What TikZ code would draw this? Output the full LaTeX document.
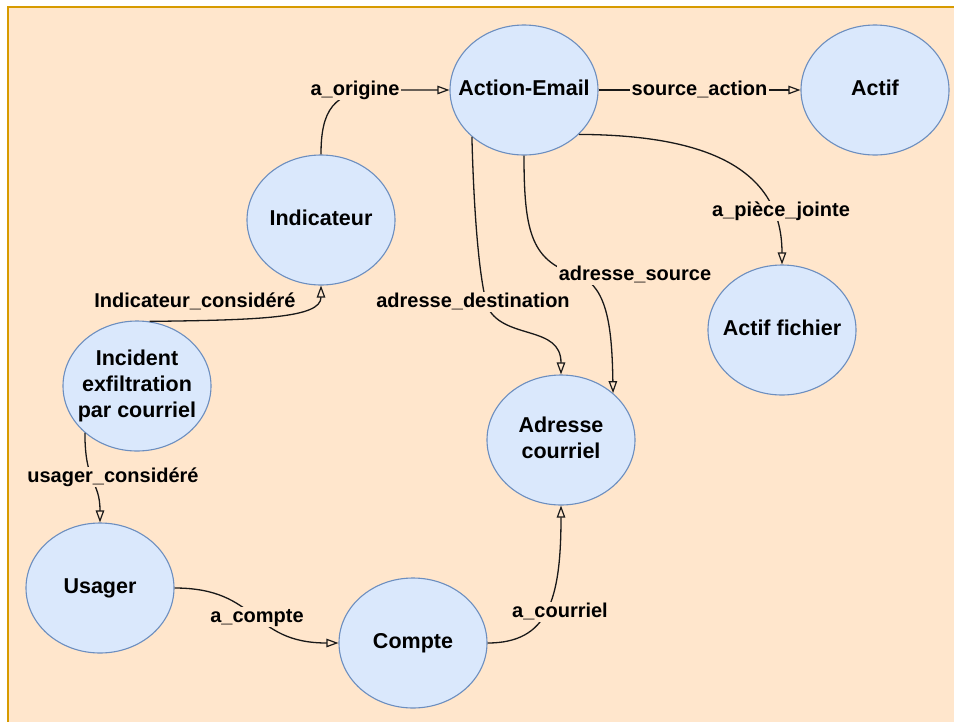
\documentclass[tikz,border=0pt]{standalone}
\usepackage{fontspec}
\setmainfont{Liberation Sans}
\usetikzlibrary{arrows.meta,shapes.geometric}

\definecolor{pagebg}{HTML}{FFE6CC}
\definecolor{framecol}{HTML}{D79B00}
\definecolor{nodefill}{HTML}{DAE8FC}
\definecolor{nodeline}{HTML}{6C8EBF}

% centred, zero-width text block so the ellipse size stays fixed
\newcommand{\etext}[1]{\makebox[0pt]{\begin{tabular}{@{}c@{}}#1\end{tabular}}}

\tikzset{
  entity/.style={ellipse, draw=nodeline, fill=nodefill, line width=1.1pt,
    minimum width=148pt, minimum height=130pt, inner sep=0pt,
    font=\fontsize{21.5}{26}\selectfont\bfseries},
  rel/.style={draw=black!90, line width=1.3pt,
    -{Triangle[open, length=12pt, width=8.5pt, line width=1.2pt]}},
  lbl/.style={fill=pagebg, inner xsep=1.5pt, inner ysep=0pt,
    text height=15pt, text depth=5pt,
    font=\fontsize{20}{24}\selectfont\bfseries}
}

\begin{document}
\begin{tikzpicture}[x=1pt, y=-1pt]
  \useasboundingbox (0,0) rectangle (954,721);
  \fill[white] (0,0) rectangle (954,721);
  \begin{scope}
    \clip (0,0) rectangle (954,721);
    \draw[fill=pagebg, draw=framecol, line width=1.6pt] (8,7) rectangle (980,760);
  \end{scope}

  % entities
  \node[entity] (ae)  at (524,90)  {\etext{Action-Email}};
  \node[entity] (act) at (875,90)  {\etext{Actif}};
  \node[entity] (ind) at (321,220) {\etext{Indicateur}};
  \node[entity] (af)  at (782,330) {\etext{Actif fichier}};
  \node[entity] (inc) at (137,386) {\etext{Incident\\exfiltration\\par courriel}};
  \node[entity] (adr) at (561,440) {\etext{Adresse\\courriel}};
  \node[entity] (usa) at (100,588) {\etext{Usager}};
  \node[entity] (cpt) at (413,643) {\etext{Compte}};

  % relations
  \draw[rel] (ind.north) .. controls (321,112) and (332,90) .. (380,90)
    node[lbl] at (355,90) {a\_origine} -- (ae.west);

  \draw[rel] (ae.east) -- node[lbl] {source\_action} (act.west);

  \draw[rel] (ae.321) .. controls (690,135) and (782,160) .. (af.north)
    node[lbl] at (781,211) {a\_pièce\_jointe};

  \draw[rel] (ae.222) .. controls (474,220) and (480,285) .. (488,308)
    .. controls (505,340) and (561,325) .. (adr.north)
    node[lbl] at (473,302) {adresse\_destination};

  \draw[rel] (ae.south) .. controls (524,235) and (532,262) .. (580,276)
    .. controls (608,288) and (612,330) .. (adr.42)
    node[lbl] at (635,275) {adresse\_source};

  \draw[rel] (inc.79) .. controls (260,320) and (321,318) .. (ind.south)
    node[lbl] at (195,302) {Indicateur\_considéré};

  \draw[rel] (inc.222) .. controls (85,485) and (100,480) .. (usa.north)
    node[lbl] at (113,477) {usager\_considéré};

  \draw[rel] (usa.east) .. controls (260,588) and (250,643) .. (cpt.west)
    node[lbl] at (257,617) {a\_compte};

  \draw[rel] (cpt.east) .. controls (548,643) and (561,600) .. (adr.south)
    node[lbl] at (560,612) {a\_courriel};
\end{tikzpicture}
\end{document}
